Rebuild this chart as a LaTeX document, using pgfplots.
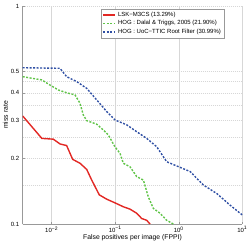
\documentclass[border=0pt]{standalone}
\usepackage{fontspec}
\setmainfont{Liberation Sans}
\usepackage{pgfplots}
\pgfplotsset{compat=1.18}
\definecolor{cred}{RGB}{226,40,36}
\definecolor{cgreen}{RGB}{96,196,72}
\definecolor{cblue}{RGB}{48,80,164}
\definecolor{gridc}{RGB}{215,215,215}
\begin{document}
\begin{tikzpicture}
\begin{axis}[
  scale only axis,
  width=219.6pt, height=218pt,
  xmode=log, ymode=log,
  xmin=0.0035, xmax=10, ymin=0.1, ymax=1,
  axis x line*=bottom, axis y line*=left,
  axis line style={gray!80, line width=0.5pt},
  xtick={0.01,0.1,1,10},
  xticklabels={10\textsuperscript{−2},10\textsuperscript{−1},10\textsuperscript{0},10\textsuperscript{1}},
  ytick={0.1,0.2,0.3,0.4,0.5,1},
  yticklabels={0.1,0.2,0.3,0.4,0.5,1},
  minor ytick={0.15,0.25,0.35,0.45},
  xminorticks=false,
  tick style={gray!80, line width=0.4pt},
  major tick length=2pt,
  minor tick length=0pt,
  tick align=inside,
  xmajorgrids, ymajorgrids, yminorgrids,
  x grid style={gridc, line width=0.5pt},
  y grid style={gridc, line width=0.5pt, dash pattern=on 1.2pt off 0.8pt},
  minor y grid style={gridc, line width=0.5pt, dash pattern=on 1.2pt off 0.8pt},
  ticklabel style={font=\fontsize{6}{7}\selectfont},
  xticklabel style={yshift=1pt},
  xlabel={False positives per image (FPPI)},
  ylabel={miss rate},
  label style={font=\fontsize{6.8}{7.5}\selectfont},
  xlabel style={yshift=5pt},
  ylabel style={yshift=-4pt},
  legend style={at={(0.917,0.986)}, anchor=north east, draw=gray!80, line width=0.4pt,
    font=\fontsize{6}{7}\selectfont, inner sep=1pt, row sep=-1.5pt},
  legend cell align=left,
  legend image code/.code={\draw[#1, line width=1.4pt] (0pt,0pt) -- (12pt,0pt);},
]
\addplot[draw=cred, line width=1.4pt] coordinates {
(0.0035,0.313) (0.0070,0.247) (0.0106,0.245) (0.0135,0.233) (0.0172,0.229)
(0.0214,0.198) (0.0279,0.190) (0.0356,0.178) (0.0427,0.159) (0.0562,0.136)
(0.0735,0.130) (0.0993,0.125) (0.134,0.120) (0.171,0.117) (0.218,0.112)
(0.261,0.106) (0.313,0.104) (0.353,0.100)
};
\addlegendentry{LSK−M3CS (13.29\%)}
\addplot[draw=cgreen, line width=1.4pt, dash pattern=on 2pt off 1.5pt] coordinates {
(0.0035,0.474) (0.0070,0.458) (0.0094,0.434) (0.0127,0.412) (0.0172,0.400)
(0.0233,0.391) (0.0279,0.358) (0.0315,0.316) (0.0356,0.298) (0.0511,0.287)
(0.065,0.270) (0.078,0.256) (0.099,0.226) (0.119,0.211) (0.134,0.190)
(0.171,0.183) (0.218,0.165) (0.278,0.159) (0.332,0.133) (0.398,0.118)
(0.508,0.112) (0.647,0.104) (0.82,0.100)
};
\addlegendentry{HOG : Dalal \& Triggs, 2005 (21.90\%)}
\addplot[draw=cblue, line width=1.4pt, dash pattern=on 2pt off 1.5pt] coordinates {
(0.0035,0.521) (0.0135,0.518) (0.0172,0.474) (0.0248,0.450) (0.0356,0.419)
(0.0511,0.371) (0.0735,0.328) (0.0993,0.300) (0.152,0.285) (0.218,0.265)
(0.313,0.247) (0.451,0.226) (0.647,0.193) (1.0,0.183) (1.51,0.174)
(2.44,0.151) (3.96,0.138) (6.43,0.122) (10,0.110)
};
\addlegendentry{HOG : UoC−TTIC Root Filter (30.99\%)}
\end{axis}
\pgfresetboundingbox
\path[use as bounding box] (-22.7pt,-24pt) rectangle (226.3pt,224pt);
\end{tikzpicture}
\end{document}
